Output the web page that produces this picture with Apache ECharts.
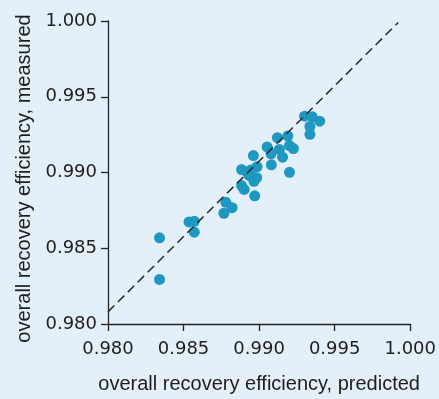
<!DOCTYPE html>
<html>
<head>
<meta charset="utf-8">
<script src="https://cdn.jsdelivr.net/npm/echarts@6/dist/echarts.min.js"></script>
<style>
  html, body { margin: 0; padding: 0; background: #e3eff9; }
  #chart { width: 439px; height: 399px; }
</style>
</head>
<body>
<div id="chart"></div>
<script>
// Predicted vs measured overall recovery efficiency
const predicted = [
  0.98341, 0.98341, 0.98536, 0.98571, 0.98571, 0.98767, 0.98780, 0.98821,
  0.98884, 0.98901, 0.98971, 0.98884, 0.98919, 0.98945, 0.98934, 0.98966,
  0.98984, 0.98986, 0.98962, 0.99053, 0.99079, 0.99081, 0.99121, 0.99134,
  0.99155, 0.99190, 0.99201, 0.99227, 0.99201, 0.99301, 0.99351, 0.99401,
  0.99336, 0.99336
];
const measured = [
  0.98569, 0.98294, 0.98674, 0.98678, 0.98606, 0.98731, 0.98803, 0.98768,
  0.98914, 0.98888, 0.98846, 0.99019, 0.99003, 0.99016, 0.98981, 0.98942,
  0.98966, 0.99038, 0.99112, 0.99169, 0.99123, 0.99051, 0.99230, 0.99152,
  0.99101, 0.99241, 0.99178, 0.99158, 0.99001, 0.99372, 0.99368, 0.99339,
  0.99304, 0.99252
];
// Reference (parity) line end points
const parityX = [0.9800, 0.9992];
const parityY = [0.9808, 0.9999];
const tickLabels = ['0.980', '0.985', '0.990', '0.995', '1.000'];

const points = predicted.map((p, i) => [p, measured[i]]);
const parity = parityX.map((x, i) => [x, parityY[i]]);

const axisText = { color: '#1e1e1e', fontFamily: 'DejaVu Sans', fontSize: 18 };
const nameText = { color: '#1e1e1e', fontFamily: 'Liberation Sans', fontSize: 20 };

const chart = echarts.init(document.getElementById('chart'), null, { renderer: 'canvas' });
chart.setOption({
  backgroundColor: '#e3eff9',
  animation: false,
  grid: { left: 108, right: 24, top: 21, bottom: 72, containLabel: false },
  xAxis: {
    type: 'value', min: 0.98, max: 1.0, interval: 0.005,
    name: 'overall recovery efficiency, predicted',
    nameLocation: 'middle', nameGap: 50, nameTextStyle: nameText,
    axisLine: { show: true, lineStyle: { color: '#222', width: 1.3 } },
    axisTick: { show: true, length: 7, lineStyle: { color: '#222', width: 1.3 } },
    axisLabel: Object.assign({ margin: 16, formatter: v => tickLabels[Math.round((v - 0.98) / 0.005)] }, axisText),
    splitLine: { show: false }
  },
  yAxis: {
    type: 'value', min: 0.98, max: 1.0, interval: 0.005,
    name: 'overall recovery efficiency, measured',
    nameLocation: 'middle', nameGap: 74,
    nameTextStyle: Object.assign({ padding: [0, 12, 0, 0] }, nameText),
    axisLine: { show: true, lineStyle: { color: '#222', width: 1.3 } },
    axisTick: { show: true, length: 7, lineStyle: { color: '#222', width: 1.3 } },
    axisLabel: Object.assign({ margin: 11, formatter: v => tickLabels[Math.round((v - 0.98) / 0.005)] }, axisText),
    splitLine: { show: false }
  },
  series: [
    {
      type: 'line', data: parity, symbol: 'none', silent: true,
      lineStyle: { color: '#2a2a2a', width: 1.5, type: [9, 5] }
    },
    {
      type: 'scatter', data: points, symbol: 'circle', symbolSize: 11,
      itemStyle: { color: '#1e97c1', opacity: 1 }
    }
  ]
});
</script>
</body>
</html>
